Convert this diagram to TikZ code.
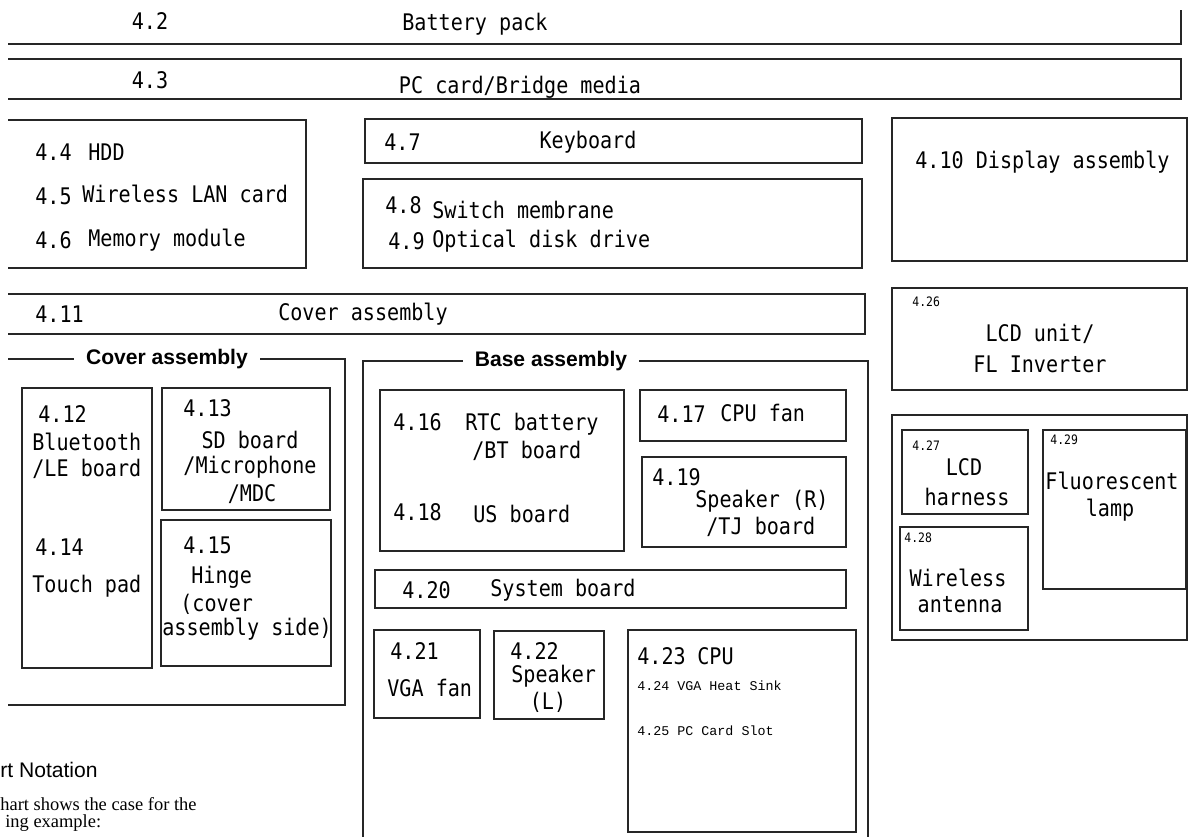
\documentclass[tikz,border=0pt]{standalone}
\usepackage{fontspec}
\newfontfamily\gothic[FakeStretch=0.88]{DejaVu Sans Mono}
\newfontfamily\arialfont{Liberation Sans}
\newfontfamily\songfont{Liberation Mono}
\newfontfamily\timesfont{Liberation Serif}
\tikzset{
  frame/.style={line width=1.1pt,draw=black!85},
  part/.style={font=\gothic\fontsize{13}{15}\selectfont,inner sep=0pt},
  tinyno/.style={font=\gothic\fontsize{7.4}{9}\selectfont,inner sep=0pt},
  subpart/.style={font=\songfont\fontsize{7.6}{9}\selectfont,inner sep=0pt},
  grouphead/.style={font=\arialfont\bfseries\fontsize{12}{14}\selectfont,fill=white,inner xsep=7pt,inner ysep=1pt}
}
\begin{document}
\begin{tikzpicture}[x=0.02cm,y=-0.02cm]
	  \useasboundingbox (0,0) rectangle (1196,837);
	  % top rows
	  \draw[frame] (8,44) -- (1181,44) -- (1181,10);
	  \draw[frame] (8,59) -- (1181,59) -- (1181,99) -- (8,99);
	  \node[part] (n42) at (150,21) {4.2};
	  \node[part] (battery) at (475,24) {Battery pack};
	  \node[part] (n43) at (150,80) {4.3};
	  \node[part] (pccard) at (520,87) {PC card/Bridge media};
	  % HDD group
	  \draw[frame] (8,120) -- (306,120) -- (306,268) -- (8,268);
	  \node[part,anchor=west] (n44) at (35,152) {4.4};
	  \node[part,anchor=west] (hdd) at (88,152) {HDD};
	  \node[part,anchor=west] (n45) at (35,196) {4.5};
	  \node[part,anchor=west] (wlan) at (82,194) {Wireless LAN card};
	  \node[part,anchor=west] (n46) at (35,240) {4.6};
	  \node[part,anchor=west] (memory) at (88,240) {Memory module};
	  % keyboard, switch membrane
	  \draw[frame] (365,119) rectangle (862,163);
	  \node[part,anchor=west] (n47) at (384,142) {4.7};
	  \node[part] (keyboard) at (588,142) {Keyboard};
	  \draw[frame] (363,179) rectangle (862,268);
	  \node[part,anchor=west] (n48) at (385,205) {4.8};
	  \node[part,anchor=west] (switch) at (432,210) {Switch membrane};
	  \node[part,anchor=west] (n49) at (388,241) {4.9};
	  \node[part,anchor=west] (odd) at (432,241) {Optical disk drive};
	  % display side
	  \draw[frame] (892,118) rectangle (1187,261);
	  \node[part,anchor=west] (display) at (915,162) {4.10 Display assembly};
	  \draw[frame] (892,288) rectangle (1187,390);
	  \node[tinyno,anchor=west] (n426) at (912,302) {4.26};
	  \node[part] (lcd1) at (1040,334) {LCD unit/};
	  \node[part] (lcd2) at (1040,364) {FL Inverter};
	  % cover assembly row
	  \draw[frame] (8,294) -- (865,294) -- (865,334) -- (8,334);
	  \node[part,anchor=west] (n411) at (35,314) {4.11};
	  \node[part] (cover) at (363,314) {Cover assembly};
	  % cover assembly group
	  \draw[frame] (8,359) -- (345,359) -- (345,705) -- (8,705);
	  \node[grouphead] (coverhead) at (167,359) {Cover assembly};
	  \draw[frame] (22,388) rectangle (152,668);
	  \node[part,anchor=west] (n412) at (38,414) {4.12};
	  \node[part,anchor=west] (bt1) at (32,442) {Bluetooth};
	  \node[part,anchor=west] (bt2) at (32,469) {/LE board};
	  \node[part,anchor=west] (n414) at (35,547) {4.14};
	  \node[part,anchor=west] (touch) at (32,586) {Touch pad};
	  \draw[frame] (162,388) rectangle (330,510);
	  \node[part,anchor=west] (n413) at (183,408) {4.13};
	  \node[part] (sd1) at (250,440) {SD board};
	  \node[part] (sd2) at (250,467) {/Microphone};
	  \node[part] (sd3) at (252,494) {/MDC};
	  \draw[frame] (161,520) rectangle (331,666);
	  \node[part,anchor=west] (n415) at (183,545) {4.15};
	  \node[part,anchor=west] (hinge1) at (191,577) {Hinge};
	  \node[part,anchor=west] (hinge2) at (180,604) {(cover};
	  \node[part,anchor=west] (hinge3) at (162,629) {assembly side)};
	  % base assembly group
	  \draw[frame] (363,840) -- (363,361) -- (868,361) -- (868,840);
	  \node[grouphead] (basehead) at (551,361) {Base assembly};
	  \draw[frame] (380,390) rectangle (624,551);
	  \node[part,anchor=west] (n416) at (393,422) {4.16};
	  \node[part,anchor=west] (rtc1) at (465,424) {RTC battery};
	  \node[part,anchor=west] (rtc2) at (472,451) {/BT board};
	  \node[part,anchor=west] (n418) at (393,512) {4.18};
	  \node[part,anchor=west] (us) at (473,514) {US board};
	  \draw[frame] (640,390) rectangle (846,441);
	  \node[part,anchor=west] (n417) at (657,414) {4.17};
	  \node[part,anchor=west] (cpufan) at (720,413) {CPU fan};
	  \draw[frame] (642,457) rectangle (846,547);
	  \node[part,anchor=west] (n419) at (652,477) {4.19};
	  \node[part,anchor=west] (spkr1) at (695,501) {Speaker (R)};
	  \node[part,anchor=west] (spkr2) at (706,527) {/TJ board};
	  \draw[frame] (375,570) rectangle (846,608);
	  \node[part,anchor=west] (n420) at (402,590) {4.20};
	  \node[part,anchor=west] (sysboard) at (490,590) {System board};
	  \draw[frame] (374,630) rectangle (480,718);
	  \node[part,anchor=west] (n421) at (390,651) {4.21};
	  \node[part,anchor=west] (vgafan) at (387,688) {VGA fan};
	  \draw[frame] (494,631) rectangle (604,719);
	  \node[part,anchor=west] (n422) at (510,651) {4.22};
	  \node[part,anchor=west] (spkl1) at (511,676) {Speaker};
	  \node[part] (spkl2) at (548,702) {(L)};
	  \draw[frame] (628,630) rectangle (856,832);
	  \node[part,anchor=west] (n423) at (637,656) {4.23};
	  \node[part,anchor=west] (cpu) at (697,656) {CPU};
	  \node[subpart,anchor=west] (heatsink) at (637,686) {4.24 VGA Heat Sink};
	  \node[subpart,anchor=west] (cardslot) at (637,731) {4.25 PC Card Slot};
	  % LCD group
	  \draw[frame] (892,415) rectangle (1187,640);
	  \draw[frame] (902,430) rectangle (1028,514);
	  \node[tinyno,anchor=west] (n427) at (912,446) {4.27};
	  \node[part] (harness1) at (964,467) {LCD};
	  \node[part] (harness2) at (967,497) {harness};
	  \draw[frame] (900,527) rectangle (1028,630);
	  \node[tinyno,anchor=west] (n428) at (904,538) {4.28};
	  \node[part] (antenna1) at (958,578) {Wireless};
	  \node[part] (antenna2) at (960,605) {antenna};
	  \draw[frame] (1043,430) rectangle (1186,589);
	  \node[tinyno,anchor=west] (n429) at (1050,440) {4.29};
	  \node[part] (lamp1) at (1112,481) {Fluorescent};
	  \node[part] (lamp2) at (1110,510) {lamp};
	  % notation text
	  \node[font=\arialfont\fontsize{12}{14}\selectfont,anchor=west,inner sep=0pt] (note1) at (0,770) {rt Notation};
	  \node[font=\timesfont\fontsize{10.5}{12}\selectfont,anchor=west,inner sep=0pt] (note2) at (0,804) {hart shows the case for the};
	  \node[font=\timesfont\fontsize{10.5}{12}\selectfont,anchor=west,inner sep=0pt] (note3) at (5,823) {ing example:};
\end{tikzpicture}
\end{document}
